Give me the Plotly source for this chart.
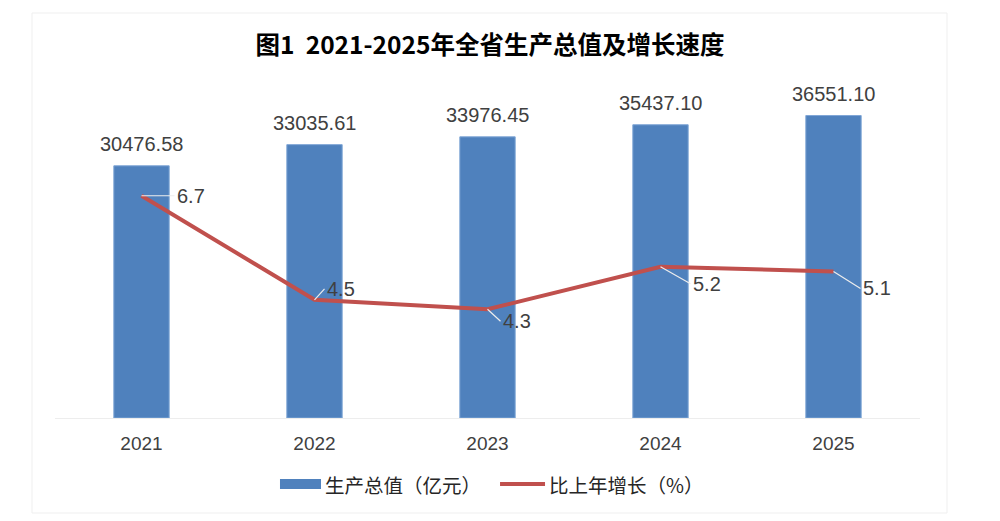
import plotly.graph_objects as go

years = ["2021", "2022", "2023", "2024", "2025"]
gdp = [30476.58, 33035.61, 33976.45, 35437.10, 36551.10]
growth = [6.7, 4.5, 4.3, 5.2, 5.1]
gdp_labels = ["30476.58", "33035.61", "33976.45", "35437.10", "36551.10"]

# label offsets for the growth labels (pixels)
offs = [(33, 0), (10, -11), (13, 12), (30, 17), (27, 17)]

BLUE = "#4F81BD"
RED = "#C0504D"
TXT = "#404040"

fig = go.Figure()

fig.add_trace(go.Bar(
    x=years, y=gdp, name="生产总值（亿元）",
    marker=dict(color=BLUE, line=dict(color="#7FA6D6", width=1)),
))

fig.add_trace(go.Scatter(
    x=years, y=growth, name="比上年增长（%）", yaxis="y2",
    mode="lines", line=dict(color=RED, width=4),
))

# bar value labels (category axis -> use index)
for i, v in enumerate(gdp):
    fig.add_annotation(
        x=i, y=v, xref="x", yref="y", text=gdp_labels[i], showarrow=False,
        yanchor="bottom", yshift=9,
        font=dict(size=20, color=TXT, family="Liberation Sans"),
    )

# growth labels with leader lines
for i, g in enumerate(growth):
    fig.add_annotation(
        x=i, y=g, xref="x", yref="y2", text=f"{g}",
        showarrow=True, arrowhead=0, arrowwidth=1.2, arrowcolor="#EDEDED",
        ax=offs[i][0], ay=offs[i][1], xanchor="left",
        font=dict(size=20, color=TXT, family="Liberation Sans"),
    )

# outer frame
fig.add_shape(type="rect", xref="paper", yref="paper",
              x0=-0.0266, x1=1.0312, y0=-0.287, y1=1.2236,
              line=dict(color="#EFEFEF", width=1))

# legend drawn by hand (wide swatches like the original)
fig.add_shape(type="rect", xref="paper", yref="paper",
              x0=0.2601, x1=0.3075, y0=-0.2145, y1=-0.1843,
              fillcolor=BLUE, line=dict(width=0))
fig.add_shape(type="line", xref="paper", yref="paper",
              x0=0.5145, x1=0.5665, y0=-0.1994, y1=-0.1994,
              line=dict(color=RED, width=4))
fig.add_annotation(x=0.3098, y=-0.1994, xref="paper", yref="paper",
                   text="生产总值（亿元）", showarrow=False,
                   xanchor="left", yanchor="middle",
                   font=dict(size=19.5, color="#262626", family="Noto Sans CJK SC"))
fig.add_annotation(x=0.5688, y=-0.1994, xref="paper", yref="paper",
                   text="比上年增长（%）", showarrow=False,
                   xanchor="left", yanchor="middle",
                   font=dict(size=19.5, color="#262626", family="Noto Sans CJK SC"))

fig.update_layout(
    width=1000, height=521,
    margin=dict(l=47, r=88, t=79, b=111),
    plot_bgcolor="white", paper_bgcolor="white",
    title=dict(text="<b>图1  2021-2025年全省生产总值及增长速度</b>",
               x=0.482, xanchor="center", y=0.929, yanchor="middle",
               font=dict(size=24.5, color="#000000", family="Noto Sans CJK SC")),
    bargap=0.68,
    showlegend=False,
    xaxis=dict(type="category", range=[-0.5, 4.5], showgrid=False, showline=True,
               linecolor="#EDEDED", linewidth=1, ticks="", ticklabelstandoff=8,
               tickfont=dict(size=19, color=TXT, family="Liberation Sans")),
    yaxis=dict(range=[0, 40000], visible=False, showgrid=False),
    yaxis2=dict(range=[2, 9], overlaying="y", side="right", visible=False, showgrid=False),
)

fig.write_html("out.html")
